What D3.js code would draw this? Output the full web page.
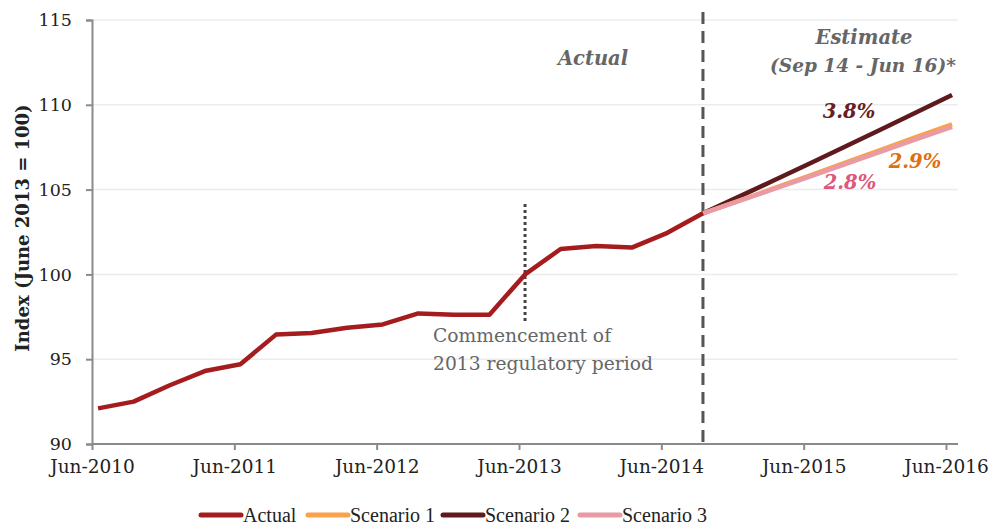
<!DOCTYPE html>
<html><head><meta charset="utf-8">
<script src="https://cdn.jsdelivr.net/npm/d3@7"></script>
<style>body{margin:0;background:#fff}svg{display:block}</style>
</head><body>
<svg id="c" width="1000" height="526"></svg>
<script>
// ---- data ----
const quarters = ["Jun-2010","Sep-2010","Dec-2010","Mar-2011","Jun-2011","Sep-2011","Dec-2011","Mar-2012","Jun-2012","Sep-2012","Dec-2012","Mar-2013","Jun-2013","Sep-2013","Dec-2013","Mar-2014","Jun-2014","Sep-2014","Dec-2014","Mar-2015","Jun-2015","Sep-2015","Dec-2015","Mar-2016","Jun-2016"];
const actual = [92.1,92.5,93.45,94.3,94.7,96.45,96.55,96.85,97.05,97.7,97.62,97.62,100.0,101.5,101.68,101.58,102.45,103.6];
const scenario1 = [103.6,104.34,105.08,105.83,106.59,107.35,108.11,108.85];
const scenario2 = [103.6,104.57,105.55,106.54,107.54,108.54,109.56,110.58];
const scenario3 = [103.6,104.32,105.04,105.77,106.50,107.24,107.98,108.70];
const scenarioStart = 17; // index of Sep-2014
const xTickLabels = ["Jun-2010","Jun-2011","Jun-2012","Jun-2013","Jun-2014","Jun-2015","Jun-2016"];
const yTicks = [90,95,100,105,110,115];
const seriesNames = ["Actual","Scenario 1","Scenario 2","Scenario 3"];
const colors = ["#a51c1f","#f9a24b","#5e1a1c","#e89aa5"];
const rateLabels = ["2.9%","3.8%","2.8%"];
const rateColors = ["#e06f12","#6a1d1f","#e0567a"];

const svg = d3.select("#c");
const serif = "'DejaVu Serif', serif";
const x = d3.scaleLinear().domain([0, 24]).range([92, 946]);
const px = i => x(i + 0.17);
const y = d3.scaleLinear().domain([90, 115]).range([444, 20]);

// gridlines
svg.append("g").selectAll("line").data(yTicks.slice(1)).join("line")
  .attr("x1", 92).attr("x2", 958).attr("y1", d => y(d)).attr("y2", d => y(d))
  .attr("stroke", "#ececec").attr("stroke-width", 1.5);

// y axis
const yAxis = svg.append("g").attr("transform", "translate(92,0)")
  .call(d3.axisLeft(y).tickValues(yTicks).tickSize(6).tickPadding(14));
yAxis.select(".domain").attr("stroke", "#8a8a8a").attr("stroke-width", 2);
yAxis.selectAll(".tick line").attr("stroke", "#8a8a8a").attr("stroke-width", 2);
yAxis.selectAll("text").attr("font-family", serif).attr("font-size", 17.5).attr("fill", "#222");

// x axis
const xAxis = svg.append("g").attr("transform", "translate(0,444)")
  .call(d3.axisBottom(x).tickValues(xTickLabels.map(l => quarters.indexOf(l)))
    .tickFormat(i => quarters[i]).tickSize(6).tickPadding(10).tickSizeOuter(0));
xAxis.select(".domain").attr("stroke", "#8a8a8a").attr("stroke-width", 2)
  .attr("d", `M92,0H958`);
xAxis.selectAll(".tick line").attr("stroke", "#8a8a8a").attr("stroke-width", 2);
xAxis.selectAll("text").attr("font-family", serif).attr("font-size", 18.5).attr("fill", "#222");

// y title
svg.append("text").attr("transform", "translate(29,228) rotate(-90)")
  .attr("text-anchor", "middle").attr("font-family", serif).attr("font-weight", "bold")
  .attr("font-size", 18).attr("fill", "#222").text("Index (June 2013 = 100)");

// dashed divider at last actual point
svg.append("line").attr("x1", px(scenarioStart)).attr("x2", px(scenarioStart))
  .attr("y1", 12).attr("y2", 449).attr("stroke", "#555").attr("stroke-width", 3)
  .attr("stroke-dasharray", "12,7");

// dotted regulatory marker at Jun-2013
const jun13 = quarters.indexOf("Jun-2013");
svg.append("line").attr("x1", px(jun13)).attr("x2", px(jun13))
  .attr("y1", 204).attr("y2", 321).attr("stroke", "#444").attr("stroke-width", 3)
  .attr("stroke-dasharray", "3,3");

const line = d3.line().x(d => px(d.i)).y(d => y(d.v));
const mk = (arr, start) => arr.map((v, k) => ({ i: start + k, v }));

svg.append("path").datum(mk(scenario2, scenarioStart)).attr("d", line)
  .attr("fill", "none").attr("stroke", colors[2]).attr("stroke-width", 4.5);
svg.append("path").datum(mk(scenario1, scenarioStart)).attr("d", line)
  .attr("fill", "none").attr("stroke", colors[1]).attr("stroke-width", 4.5);
svg.append("path").datum(mk(scenario3, scenarioStart)).attr("d", line)
  .attr("fill", "none").attr("stroke", colors[3]).attr("stroke-width", 4.5);
svg.append("path").datum(mk(actual, 0)).attr("d", line)
  .attr("fill", "none").attr("stroke", colors[0]).attr("stroke-width", 4.5)
  .attr("stroke-linejoin", "round");

// annotations
const bi = (t, xx, yy, col, size) => svg.append("text").attr("x", xx).attr("y", yy)
  .attr("text-anchor", "middle").attr("font-family", serif).attr("font-weight", "bold")
  .attr("font-style", "italic").attr("font-size", size).attr("fill", col).text(t);
bi("Actual", 593, 65, "#666", 19.5);
bi("Estimate", 864, 44, "#666", 19.5);
bi("(Sep 14 - Jun 16)*", 863, 72, "#666", 18.5);
bi(rateLabels[1], 849, 118, rateColors[1], 19.5);
bi(rateLabels[0], 915, 168, rateColors[0], 19.5);
bi(rateLabels[2], 850, 189, rateColors[2], 19.5);

svg.append("text").attr("x", 433).attr("y", 342).attr("font-family", serif)
  .attr("font-size", 18.7).attr("fill", "#666").text("Commencement of");
svg.append("text").attr("x", 433).attr("y", 370).attr("font-family", serif)
  .attr("font-size", 18.7).attr("fill", "#666").text("2013 regulatory period");

// legend
const legX = [201, 308, 443, 580];
const lg = svg.append("g").selectAll("g").data(seriesNames).join("g")
  .attr("transform", (d, i) => `translate(${legX[i]},515)`);
lg.append("line").attr("x1", 0).attr("x2", 40).attr("stroke", (d, i) => colors[i])
  .attr("stroke-width", 5).attr("stroke-linecap", "round");
lg.append("text").attr("x", 42).attr("y", 7).attr("font-family", "'Liberation Serif', serif")
  .attr("font-size", 20).attr("fill", "#222").text(d => d);
</script>
</body></html>
